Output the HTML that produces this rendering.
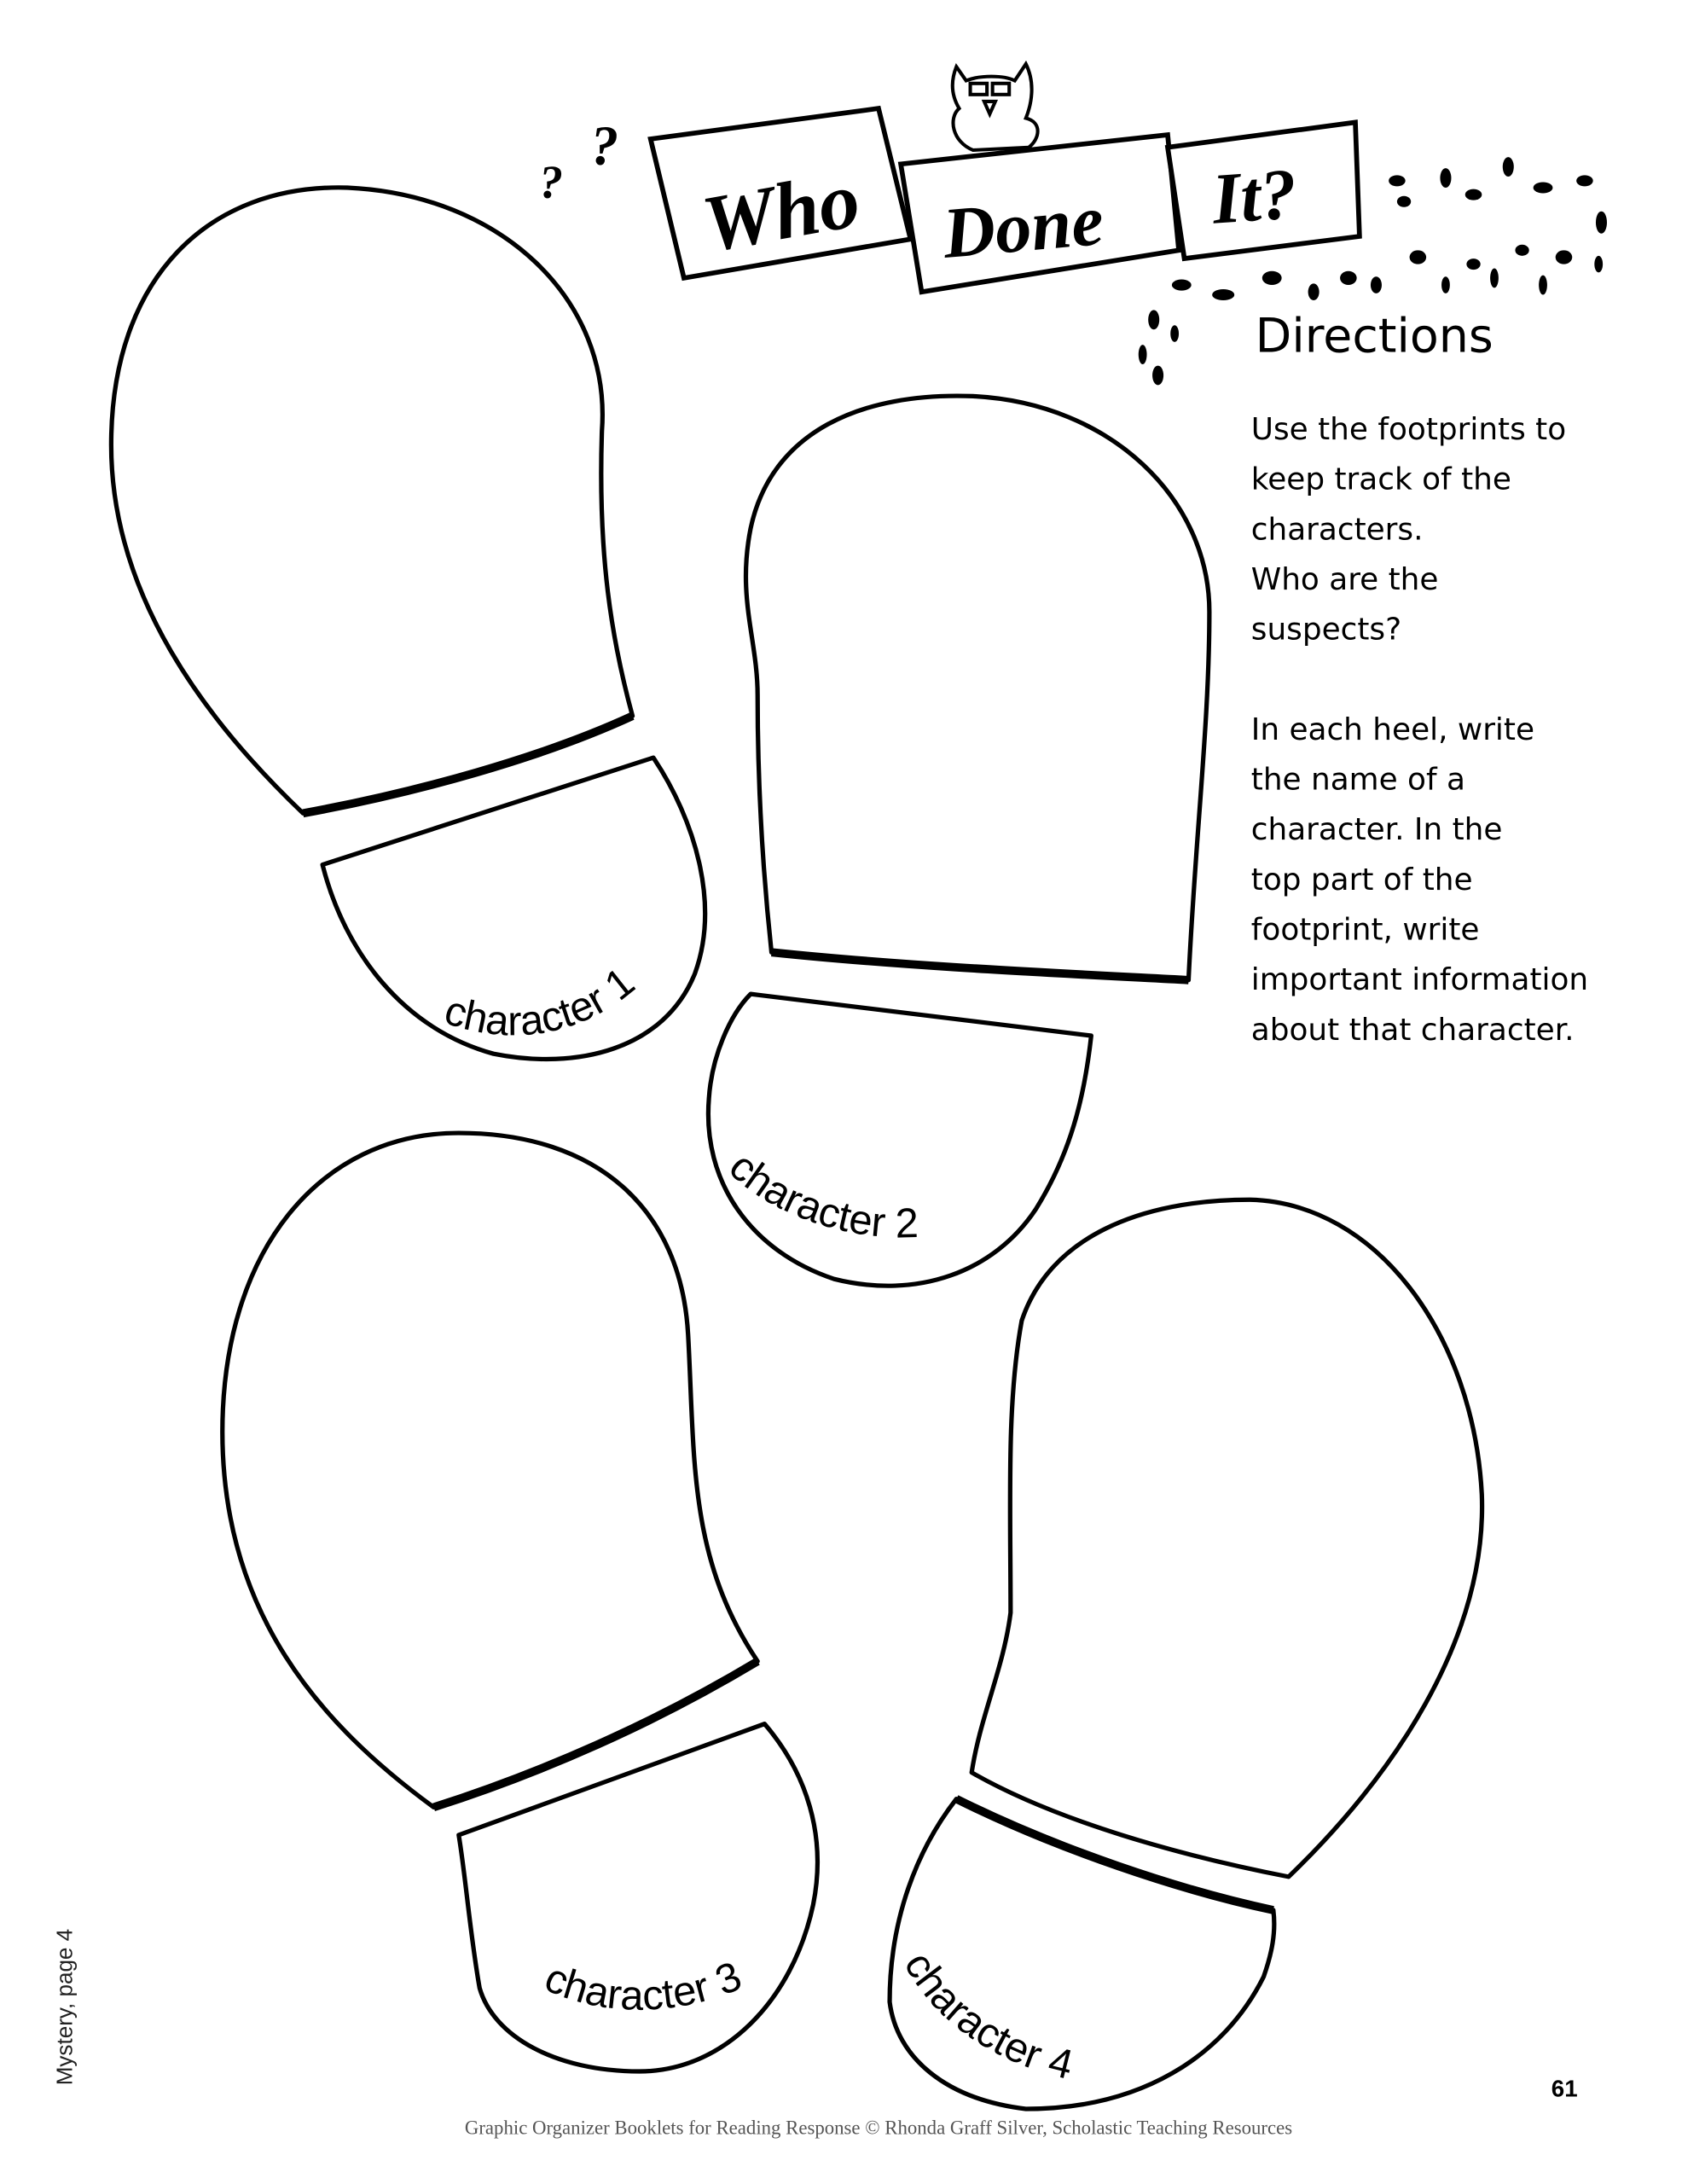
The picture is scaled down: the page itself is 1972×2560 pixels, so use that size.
<!DOCTYPE html>
<html><head><meta charset="utf-8"><style>
html,body{margin:0;padding:0;background:#fff}
svg{display:block}
</style></head><body>
<svg width="1972" height="2560" viewBox="0 0 1210 1571" preserveAspectRatio="none" xmlns="http://www.w3.org/2000/svg">
<rect width="1210" height="1571" fill="#fff"/>
<g fill="none" stroke="#000" stroke-width="3.2" stroke-linejoin="round">
<!-- footprint 1 -->
<path d="M218,585 C150,520 80,430 80,320 C80,200 150,132 250,135 C360,140 440,215 433,310 C430,400 440,460 455,515 C390,545 300,570 218,585 Z"/>
<path d="M218,585 C300,570 390,545 455,515" stroke-width="6"/>
<path d="M232,622 L470,545 C500,590 518,650 500,700 C478,755 415,770 355,758 C290,740 248,685 232,622 Z"/>
<!-- footprint 2 -->
<path d="M555,685 C548,620 545,560 545,500 C545,460 530,430 540,380 C555,310 620,282 700,285 C800,290 870,360 870,440 C870,520 860,600 855,705 C760,700 650,695 555,685 Z"/>
<path d="M555,685 C650,695 760,700 855,705" stroke-width="6"/>
<path d="M540,715 L785,745 C780,790 770,830 745,870 C715,915 660,935 600,920 C540,900 505,850 510,790 C512,760 525,730 540,715 Z"/>
<!-- footprint 3 -->
<path d="M312,1300 C230,1240 160,1160 160,1030 C160,900 230,815 330,815 C430,815 490,870 495,960 C500,1050 495,1120 545,1195 C470,1240 390,1275 312,1300 Z"/>
<path d="M312,1300 C390,1275 470,1240 545,1195" stroke-width="6"/>
<path d="M330,1320 L550,1240 C580,1275 595,1320 585,1370 C570,1440 520,1490 460,1490 C400,1490 355,1465 345,1430 C338,1390 335,1350 330,1320 Z"/>
<!-- footprint 4 -->
<path d="M699,1275 C705,1235 722,1200 727,1160 C727,1080 724,1010 735,950 C755,890 820,863 899,863 C990,865 1060,960 1066,1075 C1070,1180 1000,1280 927,1350 C850,1335 760,1310 699,1275 Z"/>
<path d="M688,1294 C760,1330 850,1360 916,1374" stroke-width="6"/>
<path d="M688,1294 C760,1330 850,1360 916,1374 C918,1390 915,1405 909,1422 C880,1480 820,1517 738,1517 C680,1510 645,1480 640,1440 C640,1380 660,1330 688,1294 Z"/>
</g>
<g font-family="'Comic Sans MS','Liberation Sans',sans-serif" font-size="30" fill="#000">
<path id="t1" d="M318,735 C385,760 450,735 488,675" fill="none"/>
<text><textPath href="#t1">character 1</textPath></text>
<path id="t2" d="M523,842 C560,880 640,905 705,880" fill="none"/>
<text><textPath href="#t2">character 2</textPath></text>
<path id="t3" d="M390,1430 C440,1455 510,1450 560,1415" fill="none"/>
<text><textPath href="#t3">character 3</textPath></text>
<path id="t4" d="M650,1412 C675,1460 730,1495 800,1500" fill="none"/>
<text><textPath href="#t4">character 4</textPath></text>
</g>
<!-- banners -->
<g stroke="#000" stroke-width="3.5" fill="#fff">
<polygon points="468,100 632,78 655,172 492,200"/>
<polygon points="648,118 840,97 848,180 663,210"/>
<polygon points="840,106 975,88 978,170 852,186"/>
</g>
<g font-family="'Liberation Serif',serif" font-style="italic" font-weight="bold" fill="#000">
<text x="505" y="172" font-size="58" transform="rotate(-10 560 150)">Who</text>
<text x="678" y="180" font-size="52" transform="rotate(-5 740 160)">Done</text>
<text x="872" y="158" font-size="52" transform="rotate(-4 910 140)">It?</text>
<text x="388" y="142" font-size="34">?</text>
<text x="425" y="118" font-size="40">?</text>
</g>
<!-- owl -->
<g stroke="#000" stroke-width="2.5" fill="#fff">
<path d="M688,48 L695,58 C705,54 722,54 730,58 L738,46 C745,60 742,75 738,85 C750,88 748,100 740,106 L700,108 C685,102 682,85 690,78 C684,68 684,58 688,48 Z"/>
<rect x="698" y="60" width="12" height="8"/><rect x="714" y="60" width="12" height="8"/>
<path d="M708,73 L716,73 L712,82 Z"/>
</g>
<!-- footprint dot trail -->
<g fill="#000">
<ellipse cx="1005" cy="130" rx="6" ry="4"/><ellipse cx="1010" cy="145" rx="5" ry="4"/>
<ellipse cx="1040" cy="128" rx="4" ry="7"/><ellipse cx="1060" cy="140" rx="6" ry="4"/>
<ellipse cx="1085" cy="120" rx="4" ry="7"/><ellipse cx="1110" cy="135" rx="7" ry="4"/>
<ellipse cx="1140" cy="130" rx="6" ry="4"/><ellipse cx="1152" cy="160" rx="4" ry="8"/>
<ellipse cx="1150" cy="190" rx="3" ry="6"/><ellipse cx="1125" cy="185" rx="6" ry="5"/>
<ellipse cx="1110" cy="205" rx="3" ry="7"/><ellipse cx="1095" cy="180" rx="5" ry="4"/>
<ellipse cx="1075" cy="200" rx="3" ry="7"/><ellipse cx="1060" cy="190" rx="5" ry="4"/>
<ellipse cx="1040" cy="205" rx="3" ry="6"/><ellipse cx="1020" cy="185" rx="6" ry="5"/>
<ellipse cx="990" cy="205" rx="4" ry="6"/><ellipse cx="970" cy="200" rx="6" ry="5"/>
<ellipse cx="945" cy="210" rx="4" ry="6"/><ellipse cx="915" cy="200" rx="7" ry="5"/>
<ellipse cx="880" cy="212" rx="8" ry="4"/><ellipse cx="850" cy="205" rx="7" ry="4"/>
<ellipse cx="830" cy="230" rx="4" ry="7"/><ellipse cx="845" cy="240" rx="3" ry="6"/>
<ellipse cx="822" cy="255" rx="3" ry="7"/><ellipse cx="833" cy="270" rx="4" ry="7"/>
</g>
<g font-family="'Comic Sans MS','DejaVu Sans',sans-serif" fill="#000">
<text x="903" y="253" font-size="34">Directions</text>
<g font-size="22">
<text x="900" y="316">Use the footprints to</text>
<text x="900" y="352">keep track of the</text>
<text x="900" y="388">characters.</text>
<text x="900" y="424">Who are the</text>
<text x="900" y="460">suspects?</text>
<text x="900" y="532">In each heel, write</text>
<text x="900" y="568">the name of a</text>
<text x="900" y="604">character. In the</text>
<text x="900" y="640">top part of the</text>
<text x="900" y="676">footprint, write</text>
<text x="900" y="712">important information</text>
<text x="900" y="748">about that character.</text>
</g>
</g>
<text x="1116" y="1508" font-family="'Liberation Sans',sans-serif" font-weight="bold" font-size="17">61</text>
<text x="632" y="1535" text-anchor="middle" font-family="'Liberation Serif',serif" font-size="14" fill="#555">Graphic Organizer Booklets for Reading Response © Rhonda Graff Silver, Scholastic Teaching Resources</text>
<text transform="translate(52,1500) rotate(-90)" font-family="'Liberation Sans',sans-serif" font-size="16" fill="#222">Mystery, page 4</text>
</svg>
</body></html>
